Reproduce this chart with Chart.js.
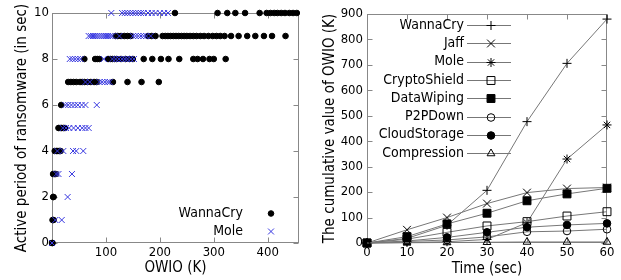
<!DOCTYPE html>
<html><head><meta charset="utf-8">
<script src="https://cdn.jsdelivr.net/npm/chart.js@4.4.1/dist/chart.umd.min.js"></script>
<style>
html,body{margin:0;padding:0;background:#fff;width:621px;height:280px;overflow:hidden}
canvas{position:absolute;top:0}
#left{left:0}
#right{left:310px}
</style></head><body>
<canvas id="left" width="310" height="280"></canvas>
<canvas id="right" width="311" height="280"></canvas>
<script>
// ---------- Left chart data: OWIO (K) values at each active period (sec) ----------
const periodLevels = [0,1,2,3,4,5,6,7,8,9,10];
const wannaCryOwioByPeriod = [
  [0,1],
  [1,3],
  [2,3],
  [2,5,7],
  [5,8,11,14,16],
  [12,15,18,21,24],
  [17],
  [30,35,40,45,52,56,60,66,72,78,83,113,140,166,198],
  [60,80,84,88,104,108,112,116,120,128,136,144,150,170,186,202,216,236,262,270,280,292,300,322],
  [118,122,128,134,140,146,178,185,192,205,210,215,220,225,230,235,240,245,250,256,262,268,275,282,290,298,305,312,320,332,346,362,377,393,408,433],
  [228,307,325,340,358,385,398,405,412,418,425,432,440,447,454]
];
const moleOwioByPeriod = [
  [0],
  [6,18],
  [29],
  [8,12,37],
  [10,21,39,45,58],
  [20,26,32,40,48,56,62,68],
  [25,30,36,42,48,55,62,83],
  [62,70,88,93,98,103,107],
  [33,38,43,48,53,96,112,118,124,130,135,140,146,152],
  [68,72,76,80,84,88,92,96,100,104,108,112,125,150,155,160,165,170,175,183],
  [110,130,135,140,145,150,155,160,165,170,178,185,192,200,208,215]
];
const leftYTicks = [0,2,4,6,8,10];
const leftXTicks = [100,200,300,400];

// ---------- Right chart data ----------
const timeSec = [0,10,20,30,40,50,60];
const wannaCry    = [0, 18, 70, 207, 477, 706, 880];
const jaff        = [0, 52, 100, 155, 198, 214, 218];
const mole        = [0, 2, 5, 14, 80, 330, 464];
const cryptoShield= [0, 15, 42, 67, 84, 106, 123];
const dataWiping  = [0, 25, 75, 117, 166, 193, 215];
const p2pDown     = [0, 6, 12, 24, 44, 47, 54];
const cloudStorage= [0, 8, 22, 42, 62, 71, 77];
const compression = [0, 1, 2, 3, 4, 4, 4];
const seriesNames = ['WannaCry','Jaff','Mole','CryptoShield','DataWiping','P2PDown','CloudStorage','Compression'];
const seriesValues = [wannaCry, jaff, mole, cryptoShield, dataWiping, p2pDown, cloudStorage, compression];

// styles
const markerStyles = ['cross','crossRot','star','rect','rect','circle','circle','triangle'];
const markerFilled = [false,false,false,false,true,false,true,false];
const markerRadius = [4.5,5.5,4.5,5.6,5.6,3.8,3.8,4.5];
const FONT = "'DejaVu Sans Condensed', 'DejaVu Sans', sans-serif";

function toPoints(rows){
  const pts=[];
  rows.forEach((xs,i)=>xs.forEach(v=>pts.push({x:v,y:periodLevels[i]})));
  return pts;
}

const framePlugin = {
  id:'frame',
  beforeDatasetsDraw(chart, args, opts){
    const {ctx, chartArea:a} = chart;
    const xs = chart.scales.x, ys = chart.scales.y;
    ctx.save();
    ctx.strokeStyle = opts.color; ctx.lineWidth = 1;
    const L = Math.round(a.left)+0.5, R = Math.round(a.right)-0.5, T = Math.round(a.top)+0.5, B = Math.round(a.bottom)-0.5;
    ctx.strokeRect(L, T, R-L, B-T);
    ctx.beginPath();
    const len = opts.tickLen;
    xs.ticks.forEach(t=>{ const p=Math.round(xs.getPixelForValue(t.value))+0.5; ctx.moveTo(p,B); ctx.lineTo(p,B-len); ctx.moveTo(p,T); ctx.lineTo(p,T+len); });
    ys.ticks.forEach(t=>{ const p=Math.round(ys.getPixelForValue(t.value))+0.5; ctx.moveTo(L,p); ctx.lineTo(L+len,p); ctx.moveTo(R,p); ctx.lineTo(R-len,p); });
    ctx.stroke();
    ctx.restore();
  }
};

const keyPlugin = {
  id:'key',
  afterDatasetsDraw(chart, args, opts){
    const ctx = chart.ctx;
    ctx.save();
    ctx.font = opts.font;
    ctx.textAlign='right'; ctx.textBaseline='middle';
    chart.data.datasets.forEach((ds,i)=>{
      const y = opts.y + i*opts.step;
      ctx.fillStyle = '#000';
      ctx.fillText(ds.label, opts.textRight, y);
      if (opts.lineFrom != null){
        ctx.strokeStyle = ds.borderColor; ctx.lineWidth = ds.borderWidth;
        ctx.beginPath(); ctx.moveTo(opts.lineFrom, Math.round(y)+0.5); ctx.lineTo(opts.lineTo, Math.round(y)+0.5); ctx.stroke();
      }
      ctx.fillStyle = ds.pointBackgroundColor; ctx.strokeStyle = ds.pointBorderColor; ctx.lineWidth = ds.pointBorderWidth;
      Chart.helpers.drawPoint(ctx, {pointStyle: ds.pointStyle, radius: ds.pointRadius, rotation: 0, borderWidth: ds.pointBorderWidth}, opts.markerX, Math.round(y)+0.5);
    });
    ctx.restore();
  }
};

Chart.defaults.font.family = FONT;
Chart.defaults.color = '#000';

// ---------- Left chart ----------
new Chart(document.getElementById('left'), {
  type:'scatter',
  data:{ datasets:[
    { label:'WannaCry', data: toPoints(wannaCryOwioByPeriod), pointStyle:'circle', pointRadius:2.8,
      pointBackgroundColor:'#000', pointBorderColor:'#000', pointBorderWidth:1, borderColor:'#000', borderWidth:0, order:1, clip:false },
    { label:'Mole', data: toPoints(moleOwioByPeriod), pointStyle:'crossRot', pointRadius:4.2,
      pointBackgroundColor:'#3838e0', pointBorderColor:'#3838e0', pointBorderWidth:1, borderColor:'#3838e0', borderWidth:0, order:0, clip:false }
  ]},
  options:{
    responsive:false, animation:false, events:[],
    layout:{ padding:{ left:0, top:13, right:11, bottom:0 } },
    plugins:{ legend:{display:false}, tooltip:{enabled:false},
      frame:{ color:'#888', tickLen:5 },
      key:{ font:"14px "+FONT, textRight:243, markerX:271, y:213, step:18 } },
    scales:{
      x:{ type:'linear', min:0, max:458, afterFit:s=>{s.height=37;},
        afterBuildTicks:s=>{ s.ticks = leftXTicks.map(v=>({value:v})); },
        grid:{display:false, drawTicks:false}, border:{display:false},
        ticks:{ font:{size:13}, padding:2, maxRotation:0 },
        title:{ display:true, text:'OWIO (K)', font:{size:15}, padding:{top:0,bottom:3} } },
      y:{ min:0, max:10, afterFit:s=>{s.width=52;},
        afterBuildTicks:s=>{ s.ticks = leftYTicks.map(v=>({value:v})); },
        grid:{display:false, drawTicks:false}, border:{display:false},
        ticks:{ font:{size:13}, padding:3 },
        title:{ display:true, text:'Active period of ransomware (in sec)', font:{size:15}, padding:{top:13,bottom:0} } }
    }
  },
  plugins:[framePlugin, keyPlugin]
});

// ---------- Right chart ----------
new Chart(document.getElementById('right'), {
  type:'line',
  data:{ datasets: seriesNames.map((name,i)=>({
    label:name,
    data: timeSec.map((t,j)=>({x:t, y:seriesValues[i][j]})),
    borderColor:'#777', borderWidth:1, tension:0, fill:false,
    pointStyle: markerStyles[i], pointRadius: markerRadius[i],
    pointBackgroundColor: markerFilled[i] ? '#000' : 'rgba(0,0,0,0)',
    pointBorderColor:'#000', pointBorderWidth:1,
    order: seriesNames.length - i, clip:false
  }))},
  options:{
    responsive:false, animation:false, events:[],
    layout:{ padding:{ left:0, top:14, right:14, bottom:0 } },
    plugins:{ legend:{display:false}, tooltip:{enabled:false},
      frame:{ color:'#888', tickLen:5 },
      key:{ font:"14px "+FONT, textRight:154, lineFrom:157, lineTo:201, markerX:181, y:25, step:18.3 } },
    scales:{
      x:{ type:'linear', min:0, max:60, afterFit:s=>{s.height=37;},
        grid:{display:false, drawTicks:false}, border:{display:false},
        ticks:{ stepSize:10, font:{size:13}, padding:2, maxRotation:0 },
        title:{ display:true, text:'Time (sec)', font:{size:15}, padding:{top:0,bottom:2} } },
      y:{ min:0, max:900, afterFit:s=>{s.width=57;},
        grid:{display:false, drawTicks:false}, border:{display:false},
        ticks:{ stepSize:100, font:{size:13}, padding:4 },
        title:{ display:true, text:'The cumulative value of OWIO (K)', font:{size:15}, padding:{top:11,bottom:0} } }
    }
  },
  plugins:[framePlugin, keyPlugin]
});
</script>
</body></html>
